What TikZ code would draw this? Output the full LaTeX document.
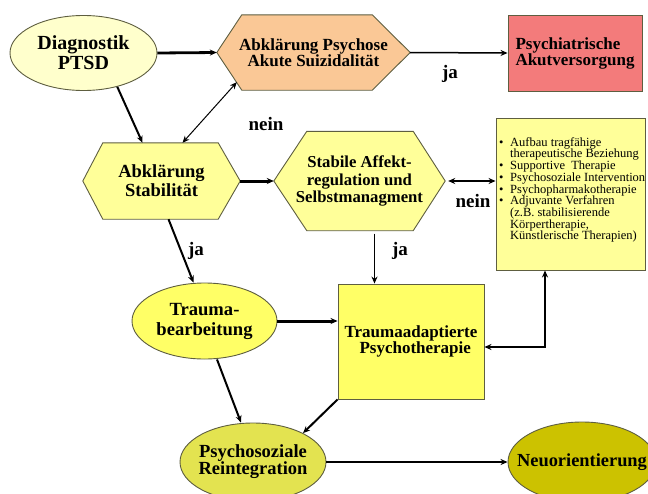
\documentclass[tikz,border=0pt]{standalone}
\usepackage{fontspec}
\setmainfont{Liberation Serif}
\usetikzlibrary{arrows.meta,shapes.geometric,backgrounds,calc}
\definecolor{edgec}{HTML}{5E5E40}
\definecolor{paleY}{HTML}{FFFFCC}
\definecolor{peach}{HTML}{FAC896}
\definecolor{salmon}{HTML}{F37B7B}
\definecolor{lightY}{HTML}{FFFF99}
\definecolor{midY}{HTML}{FFFF66}
\definecolor{oliveY}{HTML}{E3E350}
\definecolor{oliveD}{HTML}{CCC200}
\begin{document}
\begin{tikzpicture}[x=1pt,y=-1pt,
  ell/.style={ellipse, draw=edgec, line width=0.9pt, inner sep=0pt, align=center},
  box/.style={rectangle, draw=edgec, line width=0.9pt, inner sep=0pt},
  hexnode/.style={rectangle, inner sep=0pt, align=center},
  hexline/.style={draw=edgec, line width=0.9pt},
  lbl/.style={font=\bfseries\fontsize{19}{19}\selectfont, inner sep=0pt},
  arr/.style={-{Stealth[length=7pt,width=6pt]}, line width=#1},
  darr/.style={{Stealth[length=7pt,width=6pt]}-{Stealth[length=7pt,width=6pt]}, line width=#1}
]
\useasboundingbox (0,0) rectangle (648,493);
\clip (0,0) rectangle (648,493);

% --- nodes ---
\node[ell, fill=paleY, minimum width=147pt, minimum height=75pt,
      font=\bfseries\fontsize{20}{20}\selectfont] (diag) at (83.5,53) {Diagnostik\\PTSD};

\node[hexnode, minimum width=193pt, minimum height=75pt,
      font=\bfseries\fontsize{17}{15.5}\selectfont] (psy) at (313.5,52.5) {Abklärung Psychose\\Akute Suizidalität};

\node[box, fill=salmon, minimum width=134pt, minimum height=76pt, align=left,
      font=\bfseries\fontsize{17}{16}\selectfont] (akut) at (575,53) {Psychiatrische\\Akutversorgung};

\node[hexnode, minimum width=157pt, minimum height=76pt,
      font=\bfseries\fontsize{18.5}{19}\selectfont] (stab) at (161.5,181) {Abklärung\\Stabilität};

\node[hexnode, minimum width=171pt, minimum height=99pt,
      font=\bfseries\fontsize{16.7}{17.8}\selectfont] (affekt) at (359.5,181) {Stabile Affekt-\\regulation und\\Selbstmanagment};

\node[box, fill=lightY, minimum width=149pt, minimum height=152pt] (hilfe) at (570.5,194) {};
\node[anchor=west, inner sep=0pt, align=left,
      font=\fontsize{12.5}{11.7}\selectfont] (hilfetext) at (499,190)
  {\makebox[11pt][l]{\textbullet}Aufbau tragfähige\\
   \hspace*{11pt}therapeutische Beziehung\\
   \makebox[11pt][l]{\textbullet}Supportive\ \ Therapie\\
   \makebox[11pt][l]{\textbullet}Psychosoziale Intervention\\
   \makebox[11pt][l]{\textbullet}Psychopharmakotherapie\\
   \makebox[11pt][l]{\textbullet}Adjuvante Verfahren\\
   \hspace*{11pt}(z.B. stabilisierende\\
   \hspace*{11pt}Körpertherapie,\\
   \hspace*{11pt}Künstlerische Therapien)};

\node[ell, fill=midY, minimum width=145pt, minimum height=76pt,
      font=\bfseries\fontsize{18.6}{20}\selectfont] (trauma) at (204.5,321) {Trauma-\\bearbeitung};

\node[box, fill=midY, minimum width=146pt, minimum height=115pt, align=center,
      font=\bfseries\fontsize{17}{16}\selectfont] (tadapt) at (411,341.5) {Traumaadaptierte\\\ \ Psychotherapie};

\node[ell, fill=oliveY, minimum width=146pt, minimum height=78pt, inner xsep=-5pt,
      font=\bfseries\fontsize{18.5}{17}\selectfont] (psysoz) at (253,462) {Psychosoziale\\Reintegration};

\node[ell, fill=oliveD, minimum width=148pt, minimum height=80pt, inner xsep=-14pt,
      font=\bfseries\fontsize{18.4}{18}\selectfont] (neu) at (582,462) {Neuorientierung};

% --- hexagon outlines ---
\begin{pgfonlayer}{background}
\path[hexline, fill=peach] (psy.west) -- ($(psy.north west)+(25,0)$) -- ($(psy.north east)+(-38,0)$)
   -- (psy.east) -- ($(psy.south east)+(-38,0)$) -- ($(psy.south west)+(25,0)$) -- cycle;
\path[hexline, fill=lightY] (stab.west) -- ($(stab.north west)+(20,0)$) -- ($(stab.north east)+(-22,0)$)
   -- (stab.east) -- ($(stab.south east)+(-22,0)$) -- ($(stab.south west)+(20,0)$) -- cycle;
\path[hexline, fill=lightY] (affekt.west) -- ($(affekt.north west)+(33,0)$) -- ($(affekt.north east)+(-32,0)$)
   -- (affekt.east) -- ($(affekt.south east)+(-32,0)$) -- ($(affekt.south west)+(33,0)$) -- cycle;
\end{pgfonlayer}

% --- labels ---
\node[lbl] (nein1) at (266,124) {nein};
\node[lbl] (ja1) at (450,74) {ja};
\node[lbl] (nein2) at (473,201) {nein};
\node[lbl] (ja2) at (196,251) {ja};
\node[lbl] (ja3) at (400,251) {ja};

% --- connectors ---
\draw[arr=2.8pt] (diag.east) -- (psy.west);
\draw[arr=1.5pt] (psy.east) -- (akut.west);
\draw[arr=2pt] (diag.-45) -- ($(stab.north)+(-19,0)$);
\draw[darr=1pt] ($(stab.north)+(21,0)$) -- ($(psy.south west)+(20,-8)$);
\draw[arr=3pt] (stab.east) -- (affekt.west);
\draw[darr=2.5pt] ($(affekt.east)+(3,0)$) -- (affekt.east -| hilfe.west);
\draw[arr=2pt] ($(stab.south)+(7,0)$) -- ($(trauma.north)+(-11,0)$);
\draw[arr=1pt] ($(affekt.south)+(15,3)$) coordinate (s1) -- (s1 |- tadapt.north);
\draw[arr=3pt] (trauma.east) -- (trauma.east -| tadapt.west);
\draw[darr=2.5pt] ($(hilfe.south)+(-25.5,0)$) |- ($(tadapt.east)+(0,5.5)$);
\draw[arr=2pt] ($(trauma.south)+(12.5,0)$) -- ($(psysoz.north)+(-12,0)$);
\draw[arr=2pt] (tadapt.south west) -- (psysoz.30);
\draw[arr=2pt] (psysoz.east) -- (neu.west);
\end{tikzpicture}
\end{document}
